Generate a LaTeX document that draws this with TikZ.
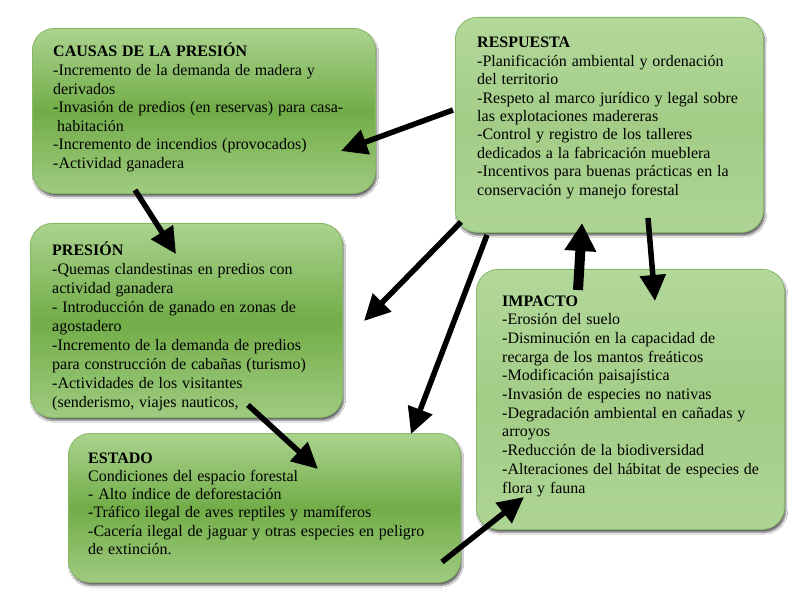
\documentclass[tikz,border=0pt]{standalone}
\usepackage{fontspec}
\setmainfont{Liberation Serif}
\usetikzlibrary{arrows.meta,shadows.blur}
\definecolor{gtop}{HTML}{ABD38F}
\definecolor{gmid}{HTML}{72AD48}
\definecolor{gbot}{HTML}{9FCB80}
\definecolor{ltop}{HTML}{B2D89A}
\definecolor{lmid}{HTML}{A3CD87}
\definecolor{lbot}{HTML}{ADD494}
\definecolor{gedge}{HTML}{86B866}
\newcommand\mywidesp{\spaceskip=0.3em plus 0.1em\relax}
\tikzset{
  box/.style={rectangle, rounded corners=22pt, draw=gedge, line width=0.8pt,
    inner sep=0pt, anchor=north west,
    blur shadow={shadow xshift=1.5pt, shadow yshift=-3pt, shadow opacity=60, shadow blur steps=6}},
  darkbox/.style={box, top color=gtop, bottom color=gbot, middle color=gmid},
  lightbox/.style={box, top color=ltop, bottom color=lbot, middle color=lmid},
  txt/.style={anchor=base west, inner sep=0pt, align=left, font=\fontsize{16}{18.6}\selectfont\mywidesp},
  arr/.style={line width=5.5pt, -{Triangle[length=26pt,width=25pt]}},
  bigarr/.style={line width=10pt, -{Triangle[length=28pt,width=30pt]}}
}
\begin{document}
\begin{tikzpicture}[x=1pt,y=-1pt]
\useasboundingbox (0,0) rectangle (800,593);
\fill[white] (0,0) rectangle (800,593);

% boxes
\node[darkbox, minimum width=343pt, minimum height=165pt] (causas) at (32,28) {};
\node[lightbox, minimum width=308pt, minimum height=215pt] (resp) at (455,17) {};
\node[darkbox, minimum width=312pt, minimum height=194pt] (pres) at (30,223) {};
\node[lightbox, minimum width=308pt, minimum height=260pt] (imp) at (476,269) {};
\node[darkbox, minimum width=392pt, minimum height=149pt] (estado) at (68,433) {};

% texts (anchor at the baseline of the last line)
\node[txt] (tcausas) at (53,168.6) {\textbf{CAUSAS DE LA PRESIÓN}\\
-Incremento de la demanda de madera y\\
derivados\\
-Invasión de predios (en reservas) para casa-\\
\hspace*{4pt}habitación\\
-Incremento de incendios (provocados)\\
-Actividad ganadera};

\node[txt, font=\fontsize{16}{18.4}\selectfont\mywidesp] (tresp) at (477,195.2) {\textbf{RESPUESTA}\\
-Planificación ambiental y ordenación\\
del territorio\\
-Respeto al marco jurídico y legal sobre\\
las explotaciones madereras\\
-Control y registro de los talleres\\
dedicados a la fabricación mueblera\\
-Incentivos para buenas prácticas en la\\
conservación y manejo forestal};

\node[txt, font=\fontsize{16}{19}\selectfont\mywidesp] (tpres) at (52,407) {\textbf{PRESIÓN}\\
-Quemas clandestinas en predios con\\
actividad ganadera\\
- Introducción de ganado en zonas de\\
agostadero\\
-Incremento de la demanda de predios\\
para construcción de cabañas (turismo)\\
-Actividades de los visitantes\\
(senderismo, viajes nauticos,};

\node[txt, font=\fontsize{16}{18.7}\selectfont\mywidesp] (timp) at (502,493) {\textbf{IMPACTO}\\
-Erosión del suelo\\
-Disminución en la capacidad de\\
recarga de los mantos freáticos\\
-Modificación paisajística\\
-Invasión de especies no nativas\\
-Degradación ambiental en cañadas y\\
arroyos\\
-Reducción de la biodiversidad\\
-Alteraciones del hábitat de especies de\\
flora y fauna};

\node[txt, font=\fontsize{16}{18.3}\selectfont\mywidesp] (testado) at (88,554.5) {\textbf{ESTADO}\\
Condiciones del espacio forestal\\
- Alto índice de deforestación\\
-Tráfico ilegal de aves reptiles y mamíferos\\
-Cacería ilegal de jaguar y otras especies en peligro\\
de extinción.};

% arrow end points
\coordinate (a1s) at (453,110); \coordinate (a1e) at (341,151);
\coordinate (a2s) at (135,190); \coordinate (a2e) at (176,254);
\coordinate (a3s) at (461,222); \coordinate (a3e) at (364,321);
\coordinate (a4s) at (487,235); \coordinate (a4e) at (411,434);
\coordinate (a5s) at (578,290); \coordinate (a5e) at (582,223);
\coordinate (a6s) at (648,218); \coordinate (a6e) at (655,301);
\coordinate (a7s) at (248,405); \coordinate (a7e) at (318,469);
\coordinate (a8s) at (442,562); \coordinate (a8e) at (524,497);

\draw[arr] (a1s) -- (a1e);
\draw[arr] (a2s) -- (a2e);
\draw[arr] (a3s) -- (a3e);
\draw[arr] (a4s) -- (a4e);
\draw[bigarr] (a5s) -- (a5e);
\draw[arr] (a6s) -- (a6e);
\draw[arr] (a7s) -- (a7e);
\draw[arr] (a8s) -- (a8e);
\end{tikzpicture}
\end{document}
